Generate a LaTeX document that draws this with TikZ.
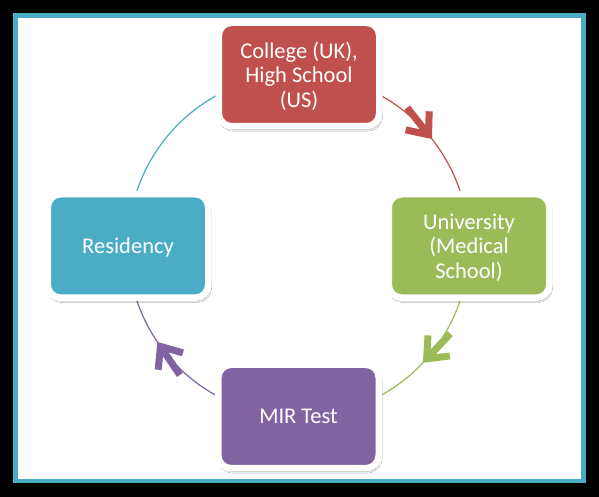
\documentclass[tikz,border=0pt]{standalone}
\usepackage{fontspec}
\setmainfont{Carlito}
\usetikzlibrary{arrows.meta,decorations.markings,shadows.blur,backgrounds}
\definecolor{stagered}{HTML}{C0504D}
\definecolor{stagegreen}{HTML}{9BBB59}
\definecolor{stagepurple}{HTML}{8064A2}
\definecolor{stageteal}{HTML}{4BACC6}
\tikzset{
  stage/.style={rectangle, rounded corners=13pt, draw=white, line width=6.5pt,
    minimum width=160.5pt, minimum height=103.5pt, align=center, text=white,
    font=\fontsize{22.5}{24.5}\selectfont, text depth=0pt,
    blur shadow={shadow xshift=1.5pt, shadow yshift=-3pt, shadow blur steps=8, shadow opacity=45}},
  ring/.style={line width=1.2pt, draw=#1},
  chevron/.style 2 args={postaction={decorate}, decoration={markings,
    mark=at position #2 with {\draw[#1, line width=7pt, -{Straight Barb[length=18pt, width=30pt]}] (-40pt,0) -- (0,0);}}}
}
\begin{document}
\begin{tikzpicture}[x=1pt, y=1pt]
	\useasboundingbox (0,0) rectangle (599,497);
	
	\node[stage, fill=stagered] (college) at (299,422.5) {College (UK),\\High School\\(US)};
	\node[stage, fill=stagegreen] (univ) at (469,251) {University\\(Medical\\School)};
	\node[stage, fill=stagepurple] (mir) at (298.5,80.5) {MIR Test};
	\node[stage, fill=stageteal] (residency) at (128,251) {Residency};
	
	\begin{scope}[on background layer]
		\fill[black] (0,0) rectangle (599,497);
		\fill[stageteal] (13,14) rectangle (586,484);
		\fill[white] (18,18) rectangle (581,479);
		
		\draw[ring=stagered, chevron={stagered}{0.57}] (college.center) to[out=0, in=90] (univ.center);
		\draw[ring=stagegreen, chevron={stagegreen}{0.48}] (univ.center) to[out=-90, in=0] (mir.center);
		\draw[ring=stagepurple, chevron={stagepurple}{0.62}] (mir.center) to[out=180, in=-90] (residency.center);
		\draw[ring=stageteal] (residency.center) to[out=90, in=180] (college.center);
	\end{scope}
	
\end{tikzpicture}
\end{document}
